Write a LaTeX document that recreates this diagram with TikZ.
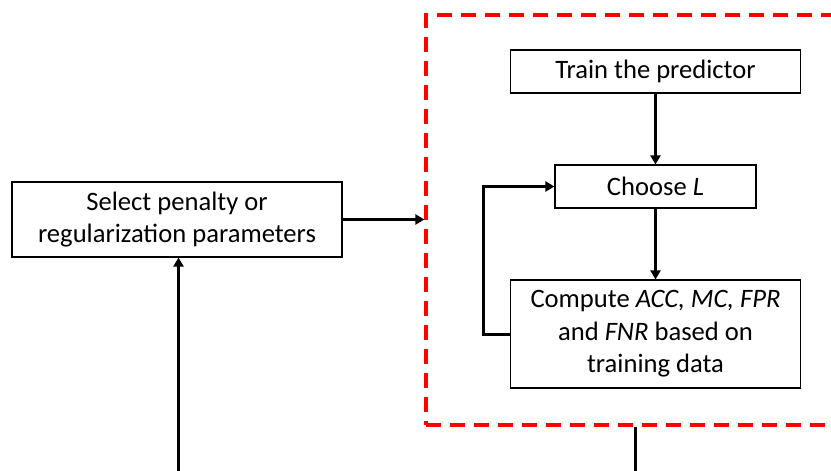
\documentclass[tikz,border=0pt]{standalone}
\usepackage{fontspec}
\setmainfont{Carlito}
\usetikzlibrary{arrows.meta,calc}
\begin{document}
\begin{tikzpicture}[x=1pt,y=-1pt,
  box/.style={draw=black,line width=1.2pt,fill=white,align=center,inner sep=0pt,
    font=\fontsize{26.6}{32.5}\selectfont},
  conn/.style={line width=3pt,-{Triangle[length=9pt,width=10pt]}},
  plain/.style={line width=3pt},
  frame/.style={draw=red,line width=3.2pt,dash pattern=on 15pt off 9pt,inner sep=0pt}]
\useasboundingbox (0,0) rectangle (831,471);
\clip (0,0) rectangle (831,471);
\node[frame,minimum width=420pt,minimum height=410pt] (fr) at (636,220) {};
\node[box,minimum width=330pt,minimum height=75pt] (sel) at (177,219.5) {Select penalty or\\regularization parameters};
\node[box,minimum width=290pt,minimum height=43pt] (train) at (655.5,71.5) {Train the predictor};
\node[box,minimum width=201pt,minimum height=43pt] (choose) at (655.5,186.5) {Choose \textit{L}};
\node[box,minimum width=290pt,minimum height=108pt] (comp) at (655.5,334) {Compute \textit{ACC, MC, FPR}\\and \textit{FNR} based on\\training data};
\coordinate (b1) at (178.5,480);
\coordinate (b2) at (635.5,480);
\draw[conn] (sel.east) -- (sel.east -| fr.west);
\draw[conn] (train.south) -- (choose.north);
\draw[conn] (choose.south) -- (comp.north);
\draw[conn] (comp.west) -- ++(-26.5,0) |- (choose.west);
\draw[conn] (b1) -- (b1 |- sel.south);
\draw[plain] (b2 |- fr.south) -- (b2);
\end{tikzpicture}
\end{document}
